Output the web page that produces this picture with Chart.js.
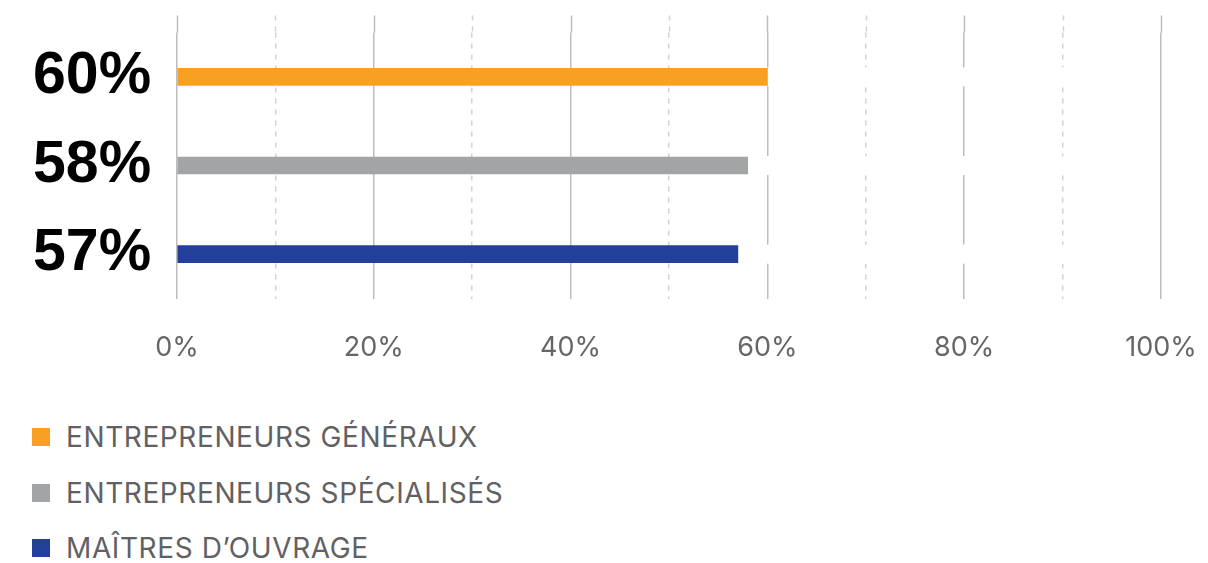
<!DOCTYPE html>
<html>
<head>
<meta charset="utf-8">
<script src="https://cdn.jsdelivr.net/npm/chart.js@4/dist/chart.umd.min.js"></script>
<style>
  html, body { margin: 0; padding: 0; background: #fff; }
  #wrap { position: relative; width: 1208px; height: 563px; overflow: hidden; }
  #chartBox { position: absolute; left: 0; top: 0; width: 1208px; height: 390px; }
  #legend { position: absolute; left: 32px; top: 417px; font-family: Inter, "Noto Sans", sans-serif; font-size: 28px; letter-spacing: 0.6px; color: #616163; }
  #legend .item { display: flex; align-items: center; height: 40px; margin-bottom: 15.5px; white-space: nowrap; }
  #legend .sw { width: 18px; height: 18px; margin-right: 16px; flex: none; }
</style>
</head>
<body>
<div id="wrap">
  <div id="chartBox"><canvas id="c"></canvas></div>
  <div id="legend"></div>
</div>
<script>
// ---- data ----
const categories = ["60%", "58%", "57%"];
const values = [60, 58, 57];
const seriesNames = ["ENTREPRENEURS GÉNÉRAUX", "ENTREPRENEURS SPÉCIALISÉS", "MAÎTRES D’OUVRAGE"];
const xTickValues = [0, 20, 40, 60, 80, 100];

const colors = ["#F8A022", "#A3A4A6", "#22409A"];

// Draw gridline extension above chart area and white gaps behind bar rows
const decorPlugin = {
  id: 'decor',
  beforeDatasetsDraw(chart) {
    const ctx = chart.ctx;
    const xs = chart.scales.x;
    const area = chart.chartArea;
    ctx.save();
    xs.ticks.forEach(t => {
      const px = Math.round(xs.getPixelForValue(t.value)) + 0.5;
      const major = t.value % 20 === 0;
      ctx.beginPath();
      ctx.lineWidth = 1.5;
      ctx.strokeStyle = major ? '#BDBDBD' : '#D2D2D2';
      ctx.setLineDash(major ? [] : [5, 6]);
      ctx.moveTo(px, area.top - 17);
      ctx.lineTo(px, area.top);
      ctx.stroke();
    });
    ctx.setLineDash([]);
    const meta = chart.getDatasetMeta(0);
    const endX = xs.getPixelForValue(100) - 2;
    meta.data.forEach(bar => {
      const h = bar.height;
      ctx.fillStyle = '#ffffff';
      ctx.fillRect(bar.x, bar.y - h / 2 - 1, endX - bar.x, h + 2);
    });
    ctx.restore();
  }
};

const htmlLegendPlugin = {
  id: 'htmlLegend',
  afterUpdate(chart) {
    const el = document.getElementById('legend');
    el.innerHTML = '';
    const ds = chart.data.datasets[0];
    seriesNames.forEach((name, i) => {
      const item = document.createElement('div');
      item.className = 'item';
      const sw = document.createElement('span');
      sw.className = 'sw';
      sw.style.background = ds.backgroundColor[i];
      const tx = document.createElement('span');
      tx.textContent = name;
      item.appendChild(sw);
      item.appendChild(tx);
      el.appendChild(item);
    });
  }
};

new Chart(document.getElementById('c'), {
  type: 'bar',
  data: {
    labels: categories,
    datasets: [{
      label: 'valeurs',
      data: values,
      backgroundColor: colors,
      borderWidth: 0,
      barThickness: 17
    }]
  },
  options: {
    indexAxis: 'y',
    responsive: true,
    maintainAspectRatio: false,
    animation: false,
    layout: { padding: { top: 31.5, left: 33, right: 47, bottom: 0 } },
    plugins: {
      legend: { display: false },
      tooltip: { enabled: false }
    },
    scales: {
      x: {
        min: 0,
        max: 100,
        ticks: {
          stepSize: 10,
          autoSkip: false,
          maxRotation: 0,
          padding: 33,
          color: '#666666',
          font: { family: 'Inter', size: 27 },
          callback: (v) => xTickValues.includes(v) ? v + '%' : ''
        },
        grid: {
          drawTicks: false,
          lineWidth: 1.5,
          color: (c) => (c.tick && c.tick.value % 20 === 0) ? '#BDBDBD' : '#D2D2D2'
        },
        border: {
          display: false,
          dash: (c) => (c.tick && c.tick.value % 20 === 0) ? [] : [5, 6]
        },
        afterFit: (s) => { s.height = 91.5; s.paddingRight = 0; s.paddingLeft = 0; }
      },
      y: {
        grid: { display: false },
        border: { display: false },
        ticks: {
          crossAlign: 'far',
          color: '#000000',
          font: { family: 'Liberation Sans', size: 59, weight: 'bold', lineHeight: 1.0 }
        },
        afterFit: (s) => { s.width = 144; }
      }
    }
  },
  plugins: [decorPlugin, htmlLegendPlugin]
});
</script>
</body>
</html>
